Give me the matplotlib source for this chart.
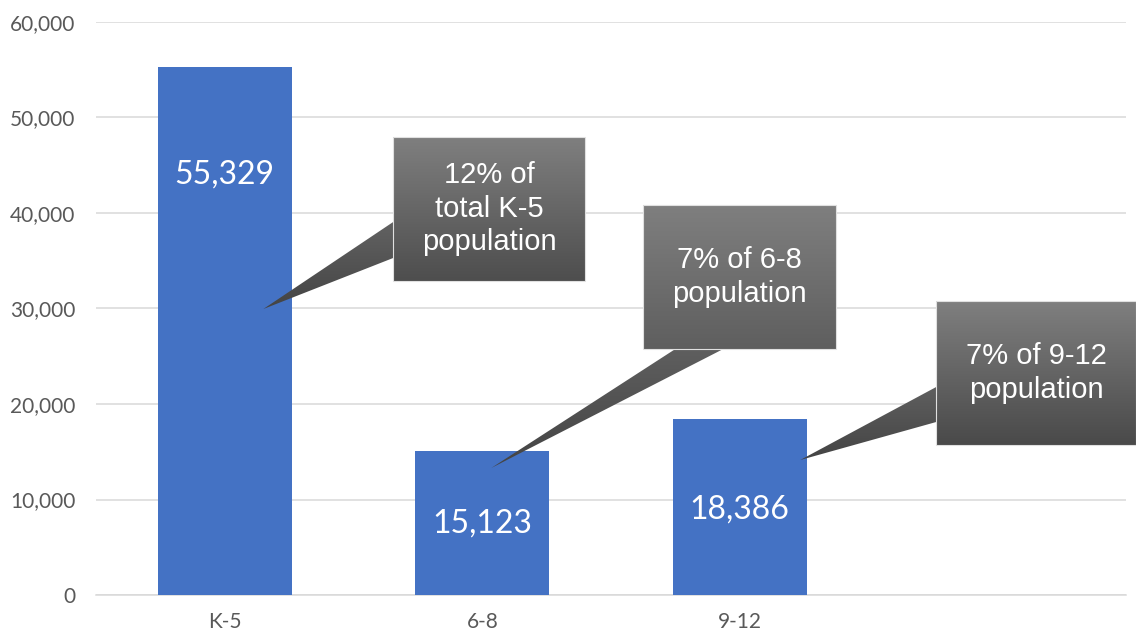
import matplotlib
matplotlib.use("Agg")
import matplotlib.pyplot as plt
import numpy as np
from matplotlib.patches import Polygon
from matplotlib.colors import LinearSegmentedColormap

# ---- data ----
categories = ["K-5", "6-8", "9-12", ""]
values = [55329, 15123, 18386]
value_labels = ["55,329", "15,123", "18,386"]
callout_texts = ["12% of\ntotal K-5\npopulation", "7% of 6-8\npopulation", "7% of 9-12\npopulation"]
yticks = [0, 10000, 20000, 30000, 40000, 50000, 60000]

# ---- layout / style ----
W, H, DPI = 1136, 633, 100
fig = plt.figure(figsize=(W / DPI, H / DPI), dpi=DPI)
ax = fig.add_axes([96 / W, (H - 595) / H, (1126 - 96) / W, (595 - 22) / H])

x = np.arange(len(categories))
ax.bar(x[:len(values)], values, width=0.52, color="#4472c4", zorder=3)

ax.set_xlim(-0.5, len(categories) - 0.5)
ax.set_ylim(0, 60000)
ax.set_yticks(yticks)
ax.set_yticklabels([f"{v:,}" for v in yticks])
ax.set_xticks(x)
ax.set_xticklabels(categories)
ax.yaxis.grid(True, color="#d9d9d9", lw=1.1, zorder=0)
ax.set_axisbelow(True)
for s in ["left", "right", "top"]:
    ax.spines[s].set_visible(False)
ax.spines["bottom"].set_color("#d9d9d9")
ax.spines["bottom"].set_linewidth(1.1)
ax.tick_params(axis="both", length=0, labelcolor="#595959", labelsize=15)
ax.tick_params(axis="y", pad=15)
ax.tick_params(axis="x", pad=12)
for lab in ax.get_xticklabels() + ax.get_yticklabels():
    lab.set_fontfamily("Lato")

# value labels inside bars (manually placed as in reference)
label_y = [44000, 7500, 8900]
for xi, ly, txt in zip(x, label_y, value_labels):
    ax.text(xi, ly, txt, ha="center", va="center", color="white",
            fontsize=23, fontfamily="Lato", zorder=6)

# ---- callouts (box + wedge), in data coordinates ----
callouts = [
    dict(box=(0.654, 1.400, 32880, 47958),
         shape=[(0.654, 47958), (1.400, 47958), (1.400, 32880), (0.654, 32880),
                (0.654, 35288), (0.150, 29948), (0.654, 39058)]),
    dict(box=(1.625, 2.375, 25759, 40838),
         shape=[(1.625, 40838), (2.375, 40838), (2.375, 25759), (1.936, 25759),
                (1.035, 13298), (1.750, 25759), (1.625, 25759)]),
    dict(box=(2.763, 3.540, 15707, 30785),
         shape=[(2.763, 30785), (3.540, 30785), (3.540, 15707), (2.763, 15707),
                (2.763, 18115), (2.235, 14136), (2.763, 21780)]),
]

grad = np.linspace(0, 1, 256).reshape(-1, 1)
cmap = LinearSegmentedColormap.from_list("g", ["#7f7f7f", "#444444"])

for c, txt in zip(callouts, callout_texts):
    pts = c["shape"]
    xs = [p[0] for p in pts]
    ys = [p[1] for p in pts]
    poly = Polygon(pts, closed=True, facecolor="none", edgecolor="none",
                   zorder=5, clip_on=False)
    ax.add_patch(poly)
    im = ax.imshow(grad, cmap=cmap, aspect="auto", origin="upper",
                   extent=(min(xs), max(xs), min(ys), max(ys)), zorder=5,
                   interpolation="bilinear")
    im.set_clip_box(fig.bbox)
    im.set_clip_path(poly)
    x0, x1, y0, y1 = c["box"]
    border = Polygon([(x0, y0), (x1, y0), (x1, y1), (x0, y1)], closed=True,
                     facecolor="none", edgecolor="#e0e0e0", lw=0.8, zorder=5.5,
                     clip_on=False)
    ax.add_patch(border)
    ax.text((x0 + x1) / 2, (y0 + y1) / 2, txt, ha="center", va="center",
            color="white", fontsize=21, fontfamily="Liberation Sans",
            linespacing=1.25, zorder=7)

ax.set_xlim(-0.5, len(categories) - 0.5)
ax.set_ylim(0, 60000)

fig.savefig("out.png", dpi=DPI)
